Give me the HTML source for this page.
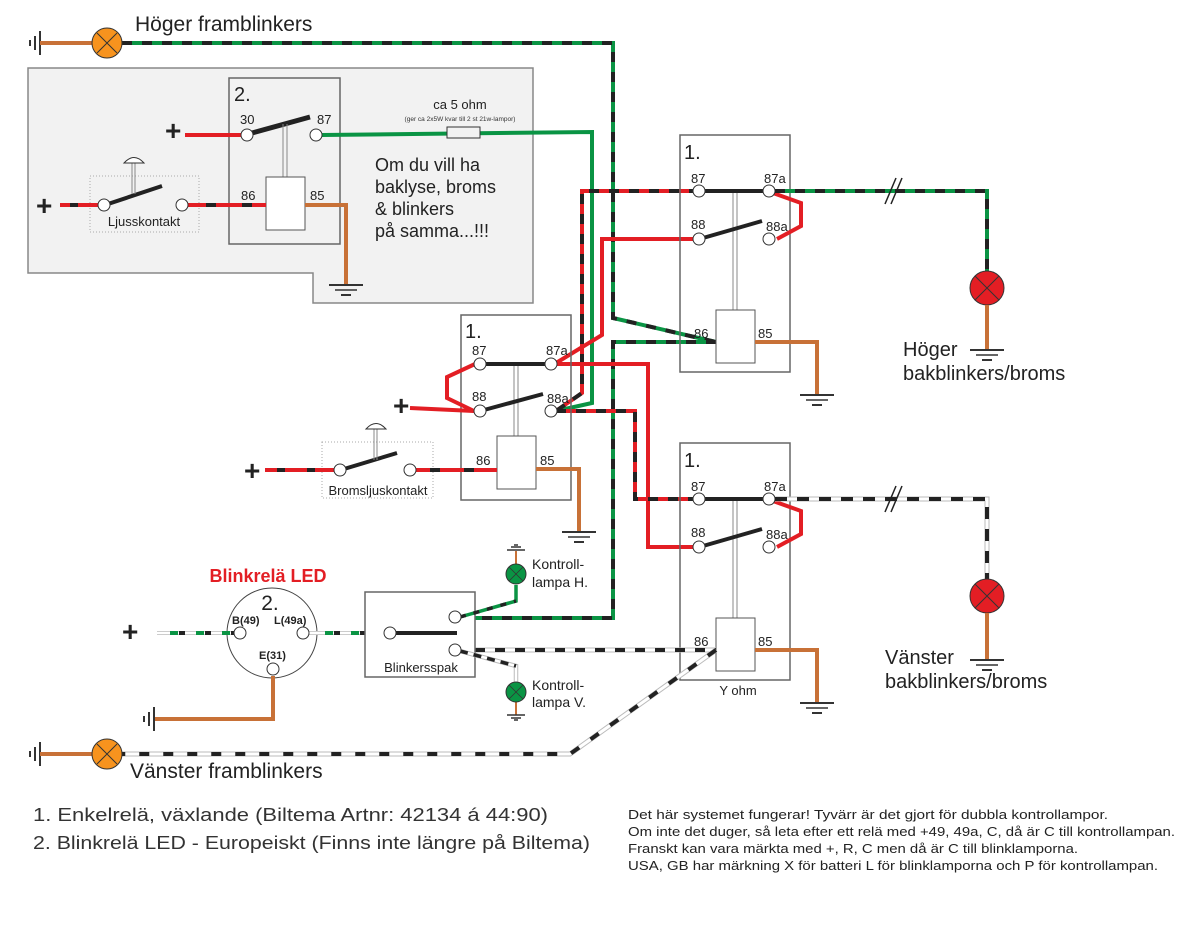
<!DOCTYPE html>
<html><head><meta charset="utf-8"><style>
body{margin:0;background:#fff}
svg{display:block;font-family:"Liberation Sans",Arial,sans-serif}
.pl{font-size:13px;fill:#222}
.big{font-size:20px;fill:#222}
</style></head><body>
<svg width="1200" height="932" viewBox="0 0 1200 932" xmlns="http://www.w3.org/2000/svg">
<defs>
<g id="gndv"><line x1="0" y1="-12" x2="0" y2="12" stroke="#333" stroke-width="2"/><line x1="-5" y1="-7" x2="-5" y2="7" stroke="#333" stroke-width="2"/><line x1="-10" y1="-3" x2="-10" y2="3" stroke="#333" stroke-width="2"/></g>
<g id="gnd"><line x1="-17" y1="0" x2="17" y2="0" stroke="#333" stroke-width="2"/><line x1="-11" y1="5" x2="11" y2="5" stroke="#333" stroke-width="1.5"/><line x1="-5" y1="10" x2="5" y2="10" stroke="#333" stroke-width="2"/></g>
</defs>

<polygon points="28,68 533,68 533,303 313,303 313,273 28,273" fill="#f2f2f2" stroke="#888" stroke-width="1.5"/>

<use href="#gndv" x="40" y="43"/>
<line x1="40" y1="43" x2="92" y2="43" stroke="#c87137" stroke-width="4"/>
<g fill="none" stroke-width="4">
<polyline points="122,43 613,43 613,318 716,342" stroke="#0a9444"/>
<polyline points="122,43 613,43 613,318 716,342" stroke="#222" stroke-dasharray="10 10"/>
<polyline points="716,342 613,342 613,618 460,618" stroke="#0a9444"/>
<polyline points="716,342 613,342 613,618 460,618" stroke="#222" stroke-dasharray="10 10"/>
</g>
<circle cx="107" cy="43" r="15" fill="#f7931e" stroke="#333"/>
<path d="M97 33L117 53M117 33L97 53" stroke="#333"/>
<text x="135" y="31" font-size="21" fill="#222">Höger framblinkers</text>

<rect x="229" y="78" width="111" height="166" fill="none" stroke="#666" stroke-width="1.5"/>
<text x="234" y="101" class="big">2.</text>
<text x="240" y="124" class="pl">30</text><text x="317" y="124" class="pl">87</text>
<text x="241" y="200" class="pl">86</text><text x="310" y="200" class="pl">85</text>
<text x="165" y="140" font-size="28" fill="#222" font-weight="bold">+</text>
<line x1="185" y1="135" x2="241" y2="135" stroke="#e31e24" stroke-width="4"/>
<line x1="252" y1="133" x2="310" y2="117" stroke="#222" stroke-width="5"/>
<line x1="283" y1="124" x2="283" y2="177" stroke="#888" stroke-width="1"/><line x1="287" y1="124" x2="287" y2="177" stroke="#888" stroke-width="1"/>
<rect x="266" y="177" width="39" height="53" fill="#fff" stroke="#555"/>
<polyline points="305,205 346,205 346,285" fill="none" stroke="#c87137" stroke-width="4"/>
<use href="#gnd" x="346" y="285"/>
<polyline points="322,135 592,132 592,403 556,411" fill="none" stroke="#0a9444" stroke-width="4"/>
<rect x="447" y="127" width="33" height="11" fill="#f2f2f2" stroke="#333"/>
<text x="460" y="109" text-anchor="middle" font-size="13" fill="#222">ca 5 ohm</text>
<text x="460" y="121" text-anchor="middle" font-size="6.5" fill="#333">(ger ca 2x5W kvar till 2 st 21w-lampor)</text>
<circle cx="247" cy="135" r="6" fill="#fff" stroke="#333"/><circle cx="316" cy="135" r="6" fill="#fff" stroke="#333"/>
<text font-size="18" fill="#222"><tspan x="375" y="171">Om du vill ha</tspan><tspan x="375" y="193">baklyse, broms</tspan><tspan x="375" y="215">&amp; blinkers</tspan><tspan x="375" y="237">på samma...!!!</tspan></text>

<rect x="90" y="176" width="109" height="56" fill="none" stroke="#aaa" stroke-dasharray="1 2"/>
<text x="36" y="215" font-size="28" fill="#222" font-weight="bold">+</text>
<line x1="60" y1="205" x2="98" y2="205" stroke="#e31e24" stroke-width="4"/><line x1="60" y1="205" x2="98" y2="205" stroke="#222" stroke-width="4" stroke-dasharray="0 10 8 10"/>
<line x1="188" y1="205" x2="266" y2="205" stroke="#e31e24" stroke-width="4"/><line x1="188" y1="205" x2="266" y2="205" stroke="#222" stroke-width="4" stroke-dasharray="0 18 10 8"/>
<line x1="108" y1="204" x2="162" y2="186" stroke="#222" stroke-width="4"/>
<line x1="132" y1="162" x2="132" y2="194" stroke="#888"/><line x1="135" y1="162" x2="135" y2="194" stroke="#888"/>
<path d="M124 163 Q134 152 144 163 Z" fill="#fff" stroke="#333"/>
<circle cx="104" cy="205" r="6" fill="#fff" stroke="#333"/><circle cx="182" cy="205" r="6" fill="#fff" stroke="#333"/>
<text x="144" y="226" text-anchor="middle" font-size="13" fill="#222">Ljusskontakt</text>

<g fill="none" stroke-width="4">
<polyline points="699,191 582,191 582,393 556,411" stroke="#e31e24"/>
<polyline points="699,191 582,191 582,393 556,411" stroke="#222" stroke-dasharray="10 10"/>
<polyline points="699,239 602,239 602,335 556,363" stroke="#e31e24"/>
<polyline points="556,364 648,364 648,547 699,547" stroke="#e31e24"/>
<polyline points="556,411 635,411 635,499 699,499" stroke="#e31e24"/>
<polyline points="556,411 635,411 635,499 699,499" stroke="#222" stroke-dasharray="10 10"/>
</g>

<g id="rel">
<rect x="680" y="135" width="110" height="237" fill="none" stroke="#666" stroke-width="1.5"/>
<text x="684" y="159" class="big">1.</text>
<text x="691" y="183" class="pl">87</text><text x="764" y="183" class="pl">87a</text>
<text x="691" y="229" class="pl">88</text><text x="766" y="231" class="pl">88a</text>
<text x="694" y="338" class="pl">86</text><text x="758" y="338" class="pl">85</text>
<line x1="699" y1="191" x2="769" y2="191" stroke="#222" stroke-width="4"/>
<line x1="733" y1="193" x2="733" y2="310" stroke="#888"/><line x1="737" y1="193" x2="737" y2="310" stroke="#888"/>
<line x1="703" y1="238" x2="762" y2="221" stroke="#222" stroke-width="4"/>
<polyline points="773,193 801,203 801,226 777,239" fill="none" stroke="#e31e24" stroke-width="4"/>
<rect x="716" y="310" width="39" height="53" fill="#fff" stroke="#555"/>
<polyline points="755,342 817,342 817,395" fill="none" stroke="#c87137" stroke-width="4"/>
<use href="#gnd" x="817" y="395"/>
<circle cx="699" cy="191" r="6" fill="#fff" stroke="#333"/><circle cx="769" cy="191" r="6" fill="#fff" stroke="#333"/>
<circle cx="699" cy="239" r="6" fill="#fff" stroke="#333"/><circle cx="769" cy="239" r="6" fill="#fff" stroke="#333"/>
</g>
<g fill="none" stroke-width="4">
<polyline points="775,191 987,191 987,272" stroke="#0a9444"/>
<polyline points="775,191 987,191 987,272" stroke="#222" stroke-dasharray="10 10"/>
</g>
<path d="M885 204L896 178M891 204L902 178" stroke="#222" stroke-width="1.5"/>
<circle cx="987" cy="288" r="17" fill="#e31e24" stroke="#333"/>
<path d="M975 276L999 300M999 276L975 300" stroke="#333"/>
<line x1="987" y1="305" x2="987" y2="350" stroke="#c87137" stroke-width="4"/><use href="#gnd" x="987" y="350"/>
<text font-size="20" fill="#222"><tspan x="903" y="356">Höger</tspan><tspan x="903" y="380">bakblinkers/broms</tspan></text>

<use href="#rel" x="0" y="308"/>
<text x="738" y="695" text-anchor="middle" font-size="13" fill="#222">Y ohm</text>
<g fill="none">
<polyline points="775,499 987,499 987,579" stroke="#bbb" stroke-width="5"/>
<polyline points="775,499 987,499 987,579" stroke="#fff" stroke-width="3"/>
<polyline points="775,499 987,499 987,579" stroke="#222" stroke-width="4" stroke-dasharray="12 10"/>
</g>
<path d="M885 512L896 486M891 512L902 486" stroke="#222" stroke-width="1.5"/>
<circle cx="987" cy="596" r="17" fill="#e31e24" stroke="#333"/>
<path d="M975 584L999 608M999 584L975 608" stroke="#333"/>
<line x1="987" y1="613" x2="987" y2="660" stroke="#c87137" stroke-width="4"/><use href="#gnd" x="987" y="660"/>
<text font-size="20" fill="#222"><tspan x="885" y="664">Vänster</tspan><tspan x="885" y="688">bakblinkers/broms</tspan></text>

<rect x="461" y="315" width="110" height="185" fill="none" stroke="#666" stroke-width="1.5"/>
<text x="465" y="338" class="big">1.</text>
<text x="472" y="355" class="pl">87</text><text x="546" y="355" class="pl">87a</text>
<text x="472" y="401" class="pl">88</text><text x="547" y="403" class="pl">88a</text>
<text x="476" y="465" class="pl">86</text><text x="540" y="465" class="pl">85</text>
<line x1="480" y1="364" x2="551" y2="364" stroke="#222" stroke-width="4"/>
<line x1="514" y1="366" x2="514" y2="436" stroke="#888"/><line x1="518" y1="366" x2="518" y2="436" stroke="#888"/>
<line x1="484" y1="410" x2="543" y2="394" stroke="#222" stroke-width="4"/>
<text x="393" y="415" font-size="28" fill="#222" font-weight="bold">+</text>
<polyline points="410,408 474,411" fill="none" stroke="#e31e24" stroke-width="4"/>
<polyline points="475,364 447,377 447,398 474,411" fill="none" stroke="#e31e24" stroke-width="4"/>
<rect x="497" y="436" width="39" height="53" fill="#fff" stroke="#555"/>
<polyline points="536,469 579,469 579,532" fill="none" stroke="#c87137" stroke-width="4"/>
<use href="#gnd" x="579" y="532"/>
<circle cx="480" cy="364" r="6" fill="#fff" stroke="#333"/><circle cx="551" cy="364" r="6" fill="#fff" stroke="#333"/>
<circle cx="480" cy="411" r="6" fill="#fff" stroke="#333"/><circle cx="551" cy="411" r="6" fill="#fff" stroke="#333"/>

<rect x="322" y="442" width="111" height="56" fill="none" stroke="#aaa" stroke-dasharray="1 2"/>
<text x="244" y="480" font-size="28" fill="#222" font-weight="bold">+</text>
<line x1="265" y1="470" x2="334" y2="470" stroke="#e31e24" stroke-width="4"/><line x1="265" y1="470" x2="334" y2="470" stroke="#222" stroke-width="4" stroke-dasharray="0 12 8 10"/>
<line x1="416" y1="470" x2="497" y2="470" stroke="#e31e24" stroke-width="4"/><line x1="416" y1="470" x2="497" y2="470" stroke="#222" stroke-width="4" stroke-dasharray="0 14 10 10"/>
<line x1="344" y1="469" x2="397" y2="453" stroke="#222" stroke-width="4"/>
<line x1="374" y1="428" x2="374" y2="460" stroke="#888"/><line x1="377" y1="428" x2="377" y2="460" stroke="#888"/>
<path d="M366 429 Q376 418 386 429 Z" fill="#fff" stroke="#333"/>
<circle cx="340" cy="470" r="6" fill="#fff" stroke="#333"/><circle cx="410" cy="470" r="6" fill="#fff" stroke="#333"/>
<text x="378" y="495" text-anchor="middle" font-size="13" fill="#222">Bromsljuskontakt</text>

<g fill="none">
<polyline points="462,650 716,650" stroke="#bbb" stroke-width="5"/><polyline points="462,650 716,650" stroke="#fff" stroke-width="3"/>
<polyline points="475,650 716,650" stroke="#222" stroke-width="4" stroke-dasharray="10 10"/>
<polyline points="716,650 570,754 122,754" stroke="#bbb" stroke-width="5"/><polyline points="716,650 570,754 122,754" stroke="#fff" stroke-width="3"/>
<polyline points="716,650 570,754 122,754" stroke="#222" stroke-width="4" stroke-dasharray="10 14"/>
</g>
<use href="#gndv" x="40" y="754"/>
<line x1="40" y1="754" x2="92" y2="754" stroke="#c87137" stroke-width="4"/>
<circle cx="107" cy="754" r="15" fill="#f7931e" stroke="#333"/>
<path d="M97 744L117 764M117 744L97 764" stroke="#333"/>
<text x="130" y="778" font-size="21" fill="#222">Vänster framblinkers</text>

<text x="268" y="582" text-anchor="middle" font-size="18" font-weight="bold" fill="#e31e24">Blinkrelä LED</text>
<circle cx="272" cy="633" r="45" fill="#fff" stroke="#444"/>
<text x="270" y="610" text-anchor="middle" font-size="21" fill="#222">2.</text>
<text x="232" y="624" font-size="11" font-weight="bold" fill="#222">B(49)</text>
<text x="274" y="624" font-size="11" font-weight="bold" fill="#222">L(49a)</text>
<text x="259" y="659" font-size="11" font-weight="bold" fill="#222">E(31)</text>
<text x="122" y="641" font-size="28" fill="#222" font-weight="bold">+</text>
<g fill="none">
<line x1="157" y1="633" x2="236" y2="633" stroke="#bbb" stroke-width="4"/><line x1="157" y1="633" x2="236" y2="633" stroke="#fff" stroke-width="2.5"/>
<line x1="170" y1="633" x2="236" y2="633" stroke="#0a9444" stroke-width="4" stroke-dasharray="8 18"/>
<line x1="179" y1="633" x2="236" y2="633" stroke="#222" stroke-width="4" stroke-dasharray="6 20"/>
<line x1="308" y1="633" x2="386" y2="633" stroke="#bbb" stroke-width="4"/><line x1="308" y1="633" x2="386" y2="633" stroke="#fff" stroke-width="2.5"/>
<line x1="325" y1="633" x2="386" y2="633" stroke="#0a9444" stroke-width="4" stroke-dasharray="8 18"/>
<line x1="334" y1="633" x2="386" y2="633" stroke="#222" stroke-width="4" stroke-dasharray="6 20"/>
</g>
<polyline points="273,676 273,719 155,719" fill="none" stroke="#c87137" stroke-width="4"/>
<use href="#gndv" x="154" y="719"/>
<circle cx="240" cy="633" r="6" fill="#fff" stroke="#333"/><circle cx="303" cy="633" r="6" fill="#fff" stroke="#333"/><circle cx="273" cy="669" r="6" fill="#fff" stroke="#333"/>

<rect x="365" y="592" width="110" height="85" fill="#fff" stroke="#666" stroke-width="1.5"/>
<line x1="390" y1="633" x2="457" y2="633" stroke="#222" stroke-width="4"/>
<circle cx="390" cy="633" r="6" fill="#fff" stroke="#333"/>
<text x="421" y="672" text-anchor="middle" font-size="13" fill="#222">Blinkersspak</text>
<g fill="none" stroke-width="3.5">
<polyline points="460,617 516,601 516,585" stroke="#0a9444"/>
<polyline points="460,617 516,601" stroke="#222" stroke-dasharray="6 8"/>
<polyline points="460,651 516,666 516,683" stroke="#bbb" stroke-width="4.5"/>
<polyline points="460,651 516,666 516,683" stroke="#fff" stroke-width="2.5"/>
<polyline points="460,651 516,666" stroke="#222" stroke-dasharray="8 6"/>
</g>
<circle cx="455" cy="617" r="6" fill="#fff" stroke="#333"/><circle cx="455" cy="650" r="6" fill="#fff" stroke="#333"/>
<line x1="516" y1="551" x2="516" y2="564" stroke="#c87137" stroke-width="2"/>
<path d="M507 550H525M511 547H521M514 545H518" stroke="#333" stroke-width="1.5"/>
<circle cx="516" cy="574" r="10" fill="#0a9444" stroke="#333"/><path d="M509 567L523 581M523 567L509 581" stroke="#333" stroke-width=".8"/>
<line x1="516" y1="702" x2="516" y2="715" stroke="#c87137" stroke-width="2"/>
<path d="M507 715H525M511 718H521M514 720H518" stroke="#333" stroke-width="1.5"/>
<circle cx="516" cy="692" r="10" fill="#0a9444" stroke="#333"/><path d="M509 685L523 699M523 685L509 699" stroke="#333" stroke-width=".8"/>
<text font-size="14" fill="#222"><tspan x="532" y="569">Kontroll-</tspan><tspan x="532" y="587">lampa H.</tspan></text>
<text font-size="14" fill="#222"><tspan x="532" y="690">Kontroll-</tspan><tspan x="532" y="707">lampa V.</tspan></text>

<text x="33" y="821" font-size="18" fill="#333" textLength="515" lengthAdjust="spacingAndGlyphs">1. Enkelrelä, växlande (Biltema Artnr: 42134 á 44:90)</text>
<text x="33" y="849" font-size="18" fill="#333" textLength="557" lengthAdjust="spacingAndGlyphs">2. Blinkrelä LED - Europeiskt (Finns inte längre på Biltema)</text>
<text x="628" y="819" font-size="12.5" fill="#222" textLength="480" lengthAdjust="spacingAndGlyphs">Det här systemet fungerar! Tyvärr är det gjort för dubbla kontrollampor.</text>
<text x="628" y="836" font-size="12.5" fill="#222" textLength="547" lengthAdjust="spacingAndGlyphs">Om inte det duger, så leta efter ett relä med +49, 49a, C, då är C till kontrollampan.</text>
<text x="628" y="853" font-size="12.5" fill="#222" textLength="450" lengthAdjust="spacingAndGlyphs">Franskt kan vara märkta med +, R, C men då är C till blinklamporna.</text>
<text x="628" y="870" font-size="12.5" fill="#222" textLength="530" lengthAdjust="spacingAndGlyphs">USA, GB har märkning X för batteri L för blinklamporna och P för kontrollampan.</text>
</svg>
</body></html>
